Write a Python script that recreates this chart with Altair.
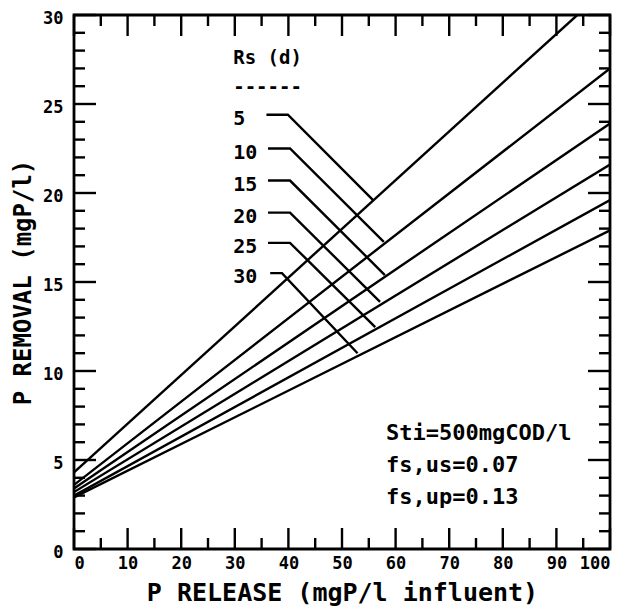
import altair as alt
import pandas as pd

# --- data ---
rs_labels = ["5", "10", "15", "20", "25", "30"]
line_x0 = [0, 0, 0, 0, 0, 0]
line_y0 = [4.3, 3.6, 3.4, 3.2, 3.0, 2.9]
line_x1 = [93.9, 100, 100, 100, 100, 100]
line_y1 = [30.0, 27.0, 23.9, 21.6, 19.6, 17.9]

leader_y = [24.4, 22.5, 20.7, 18.9, 17.2, 15.5]
leader_xstart = [35.9, 36.2, 36.2, 36.2, 36.2, 36.6]
leader_xbend = [39.9, 40.3, 40.3, 40.3, 40.3, 38.8]
leader_xend = [55.8, 57.8, 58.0, 57.1, 56.2, 52.9]
leader_yend = [19.6, 17.25, 15.39, 13.88, 12.47, 11.0]

label_x = 29.7
header_texts = ["Rs  (d)", "------"]
header_y = [27.6, 25.95]

note_texts = ["Sti=500mgCOD/l", "fs,us=0.07", "fs,up=0.13"]
note_x = 58.2
note_y = [6.5, 4.7, 2.9]

x_major = list(range(0, 101, 10))
x_minor = list(range(5, 100, 10))
y_major = list(range(0, 31, 5))
y_minor = [v for v in range(0, 31) if v % 5 != 0]

W, H = 536, 534
FONT = "DejaVu Sans Mono"

# --- tables ---
rows = []
for i, lab in enumerate(rs_labels):
    rows.append({"s": lab, "o": 0, "x": line_x0[i], "y": line_y0[i]})
    rows.append({"s": lab, "o": 1, "x": line_x1[i], "y": line_y1[i]})
lines_df = pd.DataFrame(rows)

lrows = []
for i, lab in enumerate(rs_labels):
    lrows.append({"s": lab, "o": 0, "x": leader_xstart[i], "y": leader_y[i]})
    lrows.append({"s": lab, "o": 1, "x": leader_xbend[i], "y": leader_y[i]})
    lrows.append({"s": lab, "o": 2, "x": leader_xend[i], "y": leader_yend[i]})
leader_df = pd.DataFrame(lrows)

labels_df = pd.DataFrame({"t": rs_labels, "x": [label_x] * 6, "y": leader_y})
header_df = pd.DataFrame({"t": header_texts, "x": [label_x] * 2, "y": header_y})
note_df = pd.DataFrame({"t": note_texts, "x": [note_x] * 3, "y": note_y})

xs = alt.Scale(domain=[0, 100], nice=False, zero=False)
ys = alt.Scale(domain=[0, 30], nice=False, zero=False)

base_x = alt.X("x:Q", scale=xs,
               axis=alt.Axis(values=x_major, tickSize=0, domain=False, grid=False,
                             labelFont=FONT, labelFontWeight="bold", labelFontSize=17,
                             labelColor="black", labelPadding=6,
                             title="P RELEASE (mgP/l influent)", titleFont=FONT,
                             titleFontSize=25, titleFontWeight="bold", titleColor="black",
                             titlePadding=9))
base_y = alt.Y("y:Q", scale=ys,
               axis=alt.Axis(values=y_major, tickSize=0, domain=False, grid=False,
                             labelFont=FONT, labelFontWeight="bold", labelFontSize=17,
                             labelColor="black", labelPadding=11, labelOffset=3,
                             title="P REMOVAL (mgP/l)", titleFont=FONT,
                             titleFontSize=24, titleFontWeight="bold", titleColor="black",
                             titlePadding=7))

lines = alt.Chart(lines_df).mark_line(color="black", strokeWidth=2.4, clip=True).encode(
    x=base_x, y=base_y, detail="s:N", order="o:Q")

leaders = alt.Chart(leader_df).mark_line(color="black", strokeWidth=2.4).encode(
    x=alt.X("x:Q", scale=xs), y=alt.Y("y:Q", scale=ys), detail="s:N", order="o:Q")

labels = alt.Chart(labels_df).mark_text(align="left", baseline="middle", dy=4,
                                        font=FONT, fontWeight="bold", fontSize=20,
                                        color="black").encode(
    x=alt.X("x:Q", scale=xs), y=alt.Y("y:Q", scale=ys), text="t:N")

header = alt.Chart(header_df).mark_text(align="left", baseline="middle",
                                        font=FONT, fontWeight="bold", fontSize=19,
                                        color="black").encode(
    x=alt.X("x:Q", scale=xs), y=alt.Y("y:Q", scale=ys), text="t:N")

notes = alt.Chart(note_df).mark_text(align="left", baseline="middle",
                                     font=FONT, fontWeight="bold", fontSize=22,
                                     color="black").encode(
    x=alt.X("x:Q", scale=xs), y=alt.Y("y:Q", scale=ys), text="t:N")


def xticks(vals, length, top):
    df = pd.DataFrame({"x": vals})
    if top:
        yy, yy2 = alt.value(0), alt.value(length)
    else:
        yy, yy2 = alt.value(H), alt.value(H - length)
    return alt.Chart(df).mark_rule(color="black", strokeWidth=2.4).encode(
        x=alt.X("x:Q", scale=xs), y=yy, y2=yy2)


def yticks(vals, length, right):
    df = pd.DataFrame({"y": vals})
    if right:
        xx, xx2 = alt.value(W), alt.value(W - length)
    else:
        xx, xx2 = alt.value(0), alt.value(length)
    return alt.Chart(df).mark_rule(color="black", strokeWidth=2.4).encode(
        y=alt.Y("y:Q", scale=ys), x=xx, x2=xx2)


ticks = [
    xticks(x_major, 21, False), xticks(x_minor, 11, False),
    xticks(x_major, 21, True), xticks(x_minor, 11, True),
    yticks(y_major, 22, False), yticks(y_minor, 11, False),
    yticks(y_major, 22, True), yticks(y_minor, 11, True),
]

chart = alt.layer(lines, leaders, labels, header, notes, *ticks).properties(
    width=W, height=H,
    autosize=alt.AutoSizeParams(type="none"),
    padding={"left": 66, "top": 7, "right": 12, "bottom": 57},
    background="white",
).configure_view(stroke="black", strokeWidth=2.8)

chart.save("out.html", embed_options={"renderer": "svg", "actions": False})
